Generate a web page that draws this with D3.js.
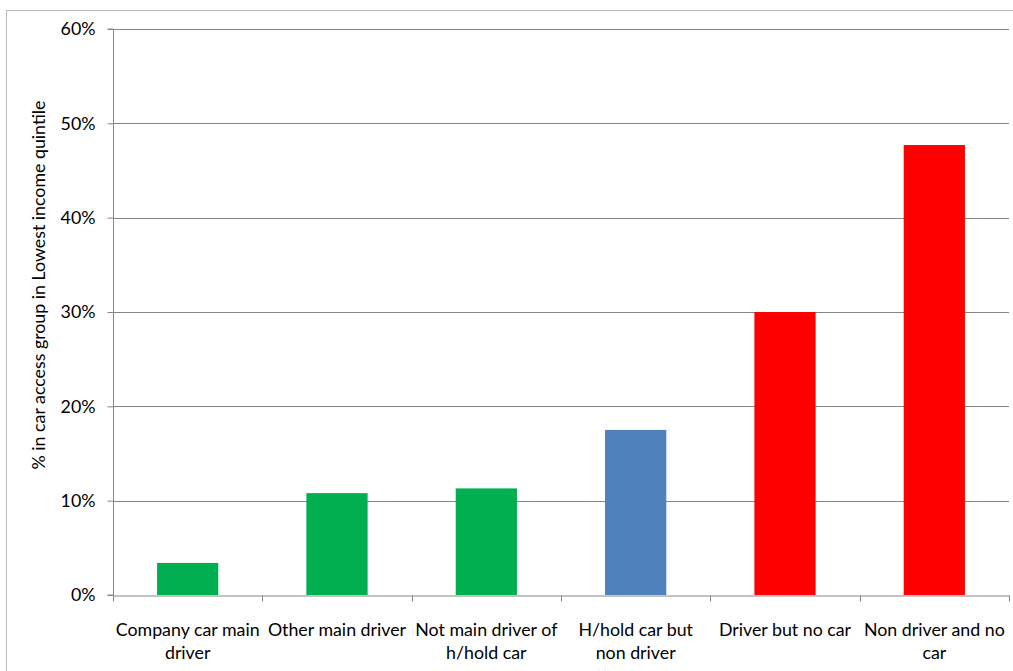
<!DOCTYPE html>
<html>
<head>
<meta charset="utf-8">
<script src="https://cdn.jsdelivr.net/npm/d3@7"></script>
<style>
  html, body { margin: 0; padding: 0; background: #fff; }
  svg { display: block; font-family: Lato, "Liberation Sans", sans-serif; }
</style>
</head>
<body>
<svg id="chart" width="1013" height="671"></svg>
<script>
const categories = [
  "Company car main\ndriver",
  "Other main driver",
  "Not main driver of\nh/hold car",
  "H/hold car but\nnon driver",
  "Driver but no car",
  "Non driver and no\ncar"
];
const values = [0.034, 0.108, 0.113, 0.175, 0.300, 0.477];
const barColors = ["#00b050", "#00b050", "#00b050", "#4f81bd", "#ff0000", "#ff0000"];
const yTicks = [0, 0.1, 0.2, 0.3, 0.4, 0.5, 0.6];
const yTitle = "% in car access group in Lowest income quintile";

const svg = d3.select("#chart");
const W = 1013, H = 671;
const m = { left: 113, right: 4, top: 29, bottom: 76 };
const FS = 17.8;

// outer chart border
svg.append("rect")
  .attr("x", 6.5).attr("y", 10.5)
  .attr("width", W + 10).attr("height", H + 10)
  .attr("fill", "none").attr("stroke", "#bcbcbc").attr("stroke-width", 1);

const x = d3.scaleBand().domain(categories).range([m.left, W - m.right]).padding(0);
const y = d3.scaleLinear().domain([0, 0.6]).range([H - m.bottom, m.top]);

// gridlines
svg.append("g").selectAll("line").data(yTicks.filter(d => d > 0)).join("line")
  .attr("x1", m.left).attr("x2", W - m.right)
  .attr("y1", d => Math.round(y(d)) + 0.5).attr("y2", d => Math.round(y(d)) + 0.5)
  .attr("stroke", "#868686").attr("stroke-width", 1);

// bars
const barW = x.bandwidth() * 0.41;
svg.append("g").selectAll("rect").data(values).join("rect")
  .attr("x", (d, i) => x(categories[i]) + (x.bandwidth() - barW) / 2)
  .attr("y", d => y(d))
  .attr("width", barW)
  .attr("height", d => y(0) - y(d))
  .attr("fill", (d, i) => barColors[i]);

// y axis
const yAxis = svg.append("g")
  .attr("transform", `translate(${m.left + 0.5},0)`)
  .call(d3.axisLeft(y).tickValues(yTicks).tickFormat(d3.format(".0%")).tickSize(6).tickPadding(12));
yAxis.select(".domain").attr("stroke", "#868686").attr("d", `M-6,${y(0.6)}H0V${y(0)}H-6`);
yAxis.selectAll(".tick line").attr("stroke", "#868686");
yAxis.selectAll(".tick text").attr("font-size", FS).attr("fill", "#000")
  .attr("font-family", "Lato, sans-serif");

// x axis
const xAxis = svg.append("g")
  .attr("transform", `translate(0,${Math.round(y(0)) + 0.5})`)
  .call(d3.axisBottom(x).tickSize(0).tickFormat(""));
xAxis.select(".domain").attr("stroke", "#868686");
// category boundary tick marks
const bounds = categories.map(c => x(c)).concat([W - m.right]);
xAxis.append("g").selectAll("line").data(bounds).join("line")
  .attr("x1", d => Math.round(d) + 0.5).attr("x2", d => Math.round(d) + 0.5)
  .attr("y1", 0).attr("y2", 6)
  .attr("stroke", "#868686");

// category labels
const labG = svg.append("g");
categories.forEach(c => {
  const lines = c.split("\n");
  const t = labG.append("text")
    .attr("x", x(c) + x.bandwidth() / 2)
    .attr("y", 636)
    .attr("text-anchor", "middle")
    .attr("font-size", FS)
    .attr("fill", "#000");
  lines.forEach((ln, i) => {
    t.append("tspan").attr("x", x(c) + x.bandwidth() / 2).attr("dy", i === 0 ? 0 : 23).text(ln);
  });
});

// y title
svg.append("text")
  .attr("transform", `translate(45,${285}) rotate(-90)`)
  .attr("text-anchor", "middle")
  .attr("font-size", FS)
  .attr("fill", "#000")
  .text(yTitle);
</script>
</body>
</html>
